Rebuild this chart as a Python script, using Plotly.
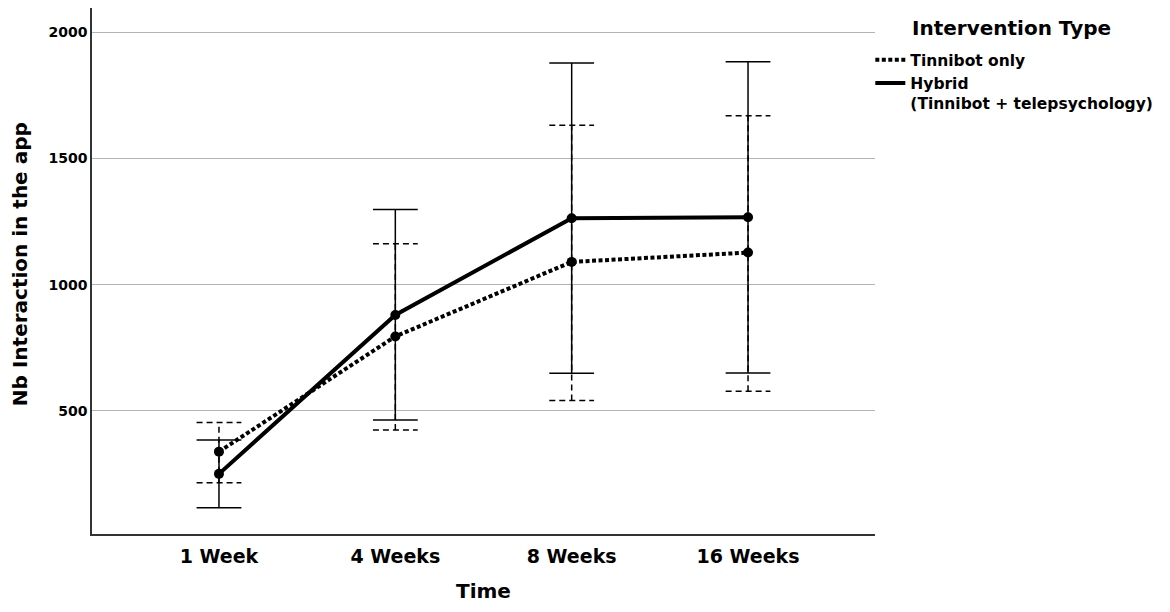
import plotly.graph_objects as go

# values (mean and error-bar ends)
categories = ["1 Week", "4 Weeks", "8 Weeks", "16 Weeks"]

tinnibot_mean = [339, 795, 1090, 1127]
tinnibot_low = [216, 425, 541, 578]
tinnibot_high = [454, 1162, 1631, 1669]

hybrid_mean = [251, 880, 1263, 1267]
hybrid_low = [117, 464, 649, 650]
hybrid_high = [385, 1297, 1877, 1882]

y_ticks = [500, 1000, 1500, 2000]

FONT = "DejaVu Sans"
CAP = 0.127  # half width of the error-bar caps, in category units


def error_bar_path(low, high):
    xs, ys = [], []
    for i, (lo, hi) in enumerate(zip(low, high)):
        xs += [i, i, None, i - CAP, i + CAP, None, i - CAP, i + CAP, None]
        ys += [lo, hi, None, hi, hi, None, lo, lo, None]
    return xs, ys


x_pos = list(range(len(categories)))
fig = go.Figure()

# error bars first so the lines sit on top
ex, ey = error_bar_path(tinnibot_low, tinnibot_high)
fig.add_trace(go.Scatter(x=ex, y=ey, mode="lines", showlegend=False, hoverinfo="skip",
                         line=dict(color="black", width=1.5, dash="6px,4px")))
ex, ey = error_bar_path(hybrid_low, hybrid_high)
fig.add_trace(go.Scatter(x=ex, y=ey, mode="lines", showlegend=False, hoverinfo="skip",
                         line=dict(color="black", width=1.5)))

fig.add_trace(go.Scatter(x=x_pos, y=tinnibot_mean, mode="lines", name="Tinnibot only",
                         line=dict(color="black", width=4, dash="4px,2.5px")))
fig.add_trace(go.Scatter(x=x_pos, y=hybrid_mean, mode="lines",
                         name="Hybrid<br>(Tinnibot + telepsychology)",
                         line=dict(color="black", width=4)))

for means in (tinnibot_mean, hybrid_mean):
    fig.add_trace(go.Scatter(x=x_pos, y=means, mode="markers", showlegend=False,
                             marker=dict(color="black", size=10)))

# page body has an 8px margin, so the figure is 16px smaller than the window
fig.update_layout(
    width=1154, height=596,
    margin=dict(l=84, r=287, t=0, b=70, autoexpand=False),
    paper_bgcolor="white", plot_bgcolor="white",
    font=dict(family=FONT, color="black"),
    legend=dict(x=0.994, xanchor="left", y=0.933, yanchor="top",
                font=dict(size=15.5, weight="bold"), valign="top",
                bgcolor="rgba(0,0,0,0)", tracegroupgap=0),
    annotations=[
        dict(text="Intervention Type", xref="paper", yref="paper", x=1.045, y=0.962,
             xanchor="left", yanchor="middle", showarrow=False,
             font=dict(size=20, weight="bold")),
        dict(text="Time", xref="paper", yref="paper", x=0.5, y=-0.108,
             xanchor="center", yanchor="middle", showarrow=False,
             font=dict(size=20, weight="bold")),
        dict(text="Nb Interaction in the app", xref="paper", yref="paper", x=-0.092, y=0.513,
             xanchor="center", yanchor="middle", showarrow=False, textangle=-90,
             font=dict(size=20, weight="bold")),
    ],
)

fig.update_xaxes(
    range=[-0.72, 3.72], tickvals=x_pos, ticktext=categories,
    showgrid=False, zeroline=False, ticks="",
    showline=True, linecolor="#333333", linewidth=1.5,
    tickfont=dict(size=19, weight="bold"), ticklabelstandoff=4,
)
fig.update_yaxes(
    range=[13, 2095], tickvals=y_ticks,
    showgrid=True, gridcolor="#b4b4b4", gridwidth=1, zeroline=False, ticks="",
    showline=True, linecolor="#333333", linewidth=1.5,
    tickfont=dict(size=14, weight="bold"), ticklabelstandoff=0,
)

fig.write_html("out.html")
